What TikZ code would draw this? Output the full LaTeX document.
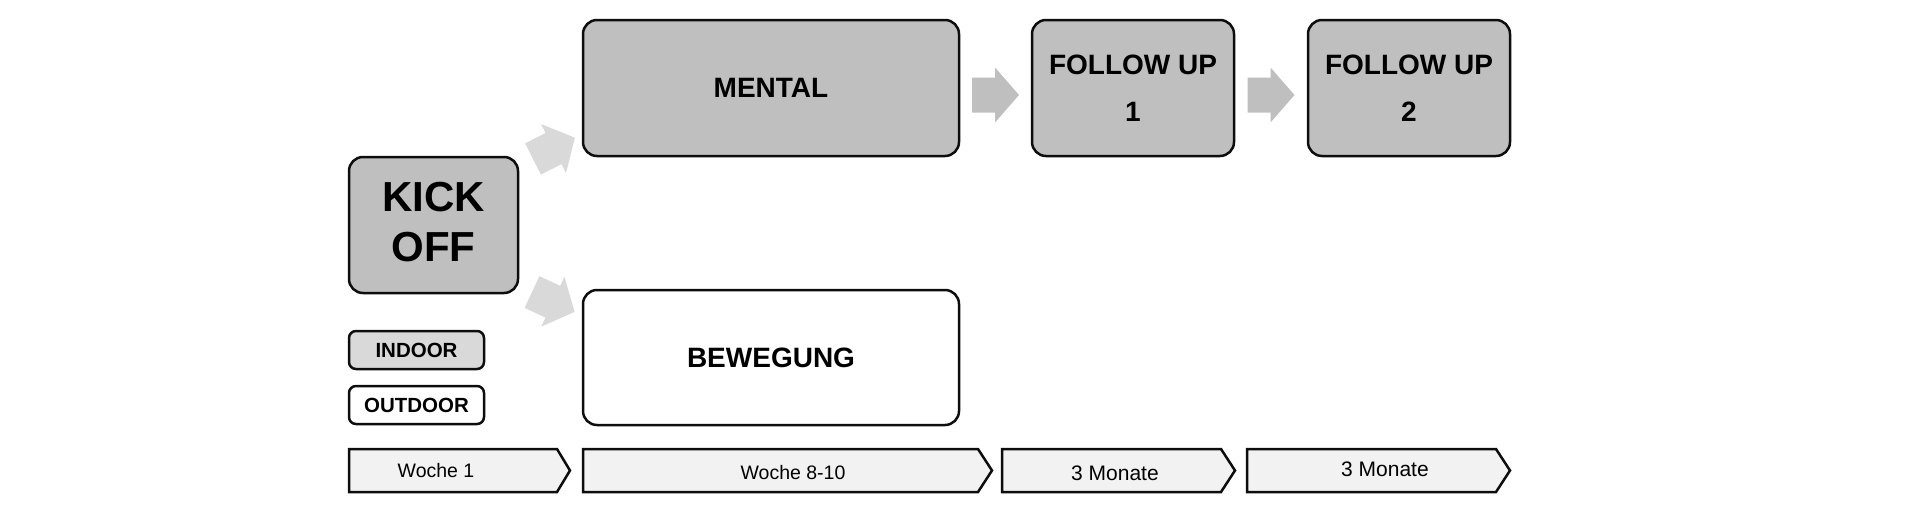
\documentclass[tikz,border=0pt]{standalone}
\usepackage{fontspec}
\setmainfont{Liberation Sans}
\usetikzlibrary{calc}
\definecolor{boxgray}{HTML}{BFBFBF}
\definecolor{lightgray2}{HTML}{D9D9D9}
\definecolor{chevfill}{HTML}{F2F2F2}
\definecolor{edge}{HTML}{0D0D0D}
\tikzset{
  bigbox/.style={draw=edge, line width=2.5pt, rounded corners=14pt, fill=boxgray,
    inner sep=0pt, align=center, font=\bfseries\fontsize{28}{47}\selectfont},
  whitebox/.style={bigbox, fill=white},
  legendbox/.style={draw=edge, line width=2.5pt, rounded corners=7pt, inner sep=0pt,
    minimum width=135pt, minimum height=38pt, font=\bfseries\fontsize{20.5}{24}\selectfont},
  chev/.style={draw=edge, line width=2.5pt, fill=chevfill, line join=miter},
  chevtxt/.style={font=\fontsize{19.5}{22}\selectfont, inner sep=0pt},
  blockarrow/.pic={\fill[pic actions] (0,-17.5) -- (23,-17.5) -- (23,-27.5) -- (47,0) -- (23,27.5) -- (23,17.5) -- (0,17.5) -- cycle;}
}
\begin{document}
\begin{tikzpicture}[x=1pt,y=-1pt]
\useasboundingbox (0,0) rectangle (1920,509);
% main boxes
\node[bigbox, minimum width=169pt, minimum height=136pt] (kick) at (433.5,225) {};
\node[align=center, inner sep=0pt, font=\bfseries\fontsize{42}{50}\selectfont]
  (kicktxt) at ($(kick.center)+(0,-3)$) {KICK\\OFF};
\node[bigbox, minimum width=376pt, minimum height=136pt] (mental) at (771,88) {MENTAL};
\node[bigbox, minimum width=202pt, minimum height=136pt] (fu1) at (1133,88) {FOLLOW UP\\1};
\node[bigbox, minimum width=202pt, minimum height=136pt] (fu2) at (1409,88) {FOLLOW UP\\2};
\node[whitebox, minimum width=376pt, minimum height=135pt] (beweg) at (771,357.5) {BEWEGUNG};
% legend
\node[legendbox, fill=lightgray2] (indoor) at (416.5,350) {INDOOR};
\node[legendbox, fill=white] (outdoor) at (416.5,405) {OUTDOOR};
% block arrows
\pic[fill=boxgray] at ($(mental.east)!0.5!(fu1.west)+(-23.5,7)$) {blockarrow};
\pic[fill=boxgray] at ($(fu1.east)!0.5!(fu2.west)+(-23.5,7)$) {blockarrow};
\pic[fill=lightgray2, rotate=27] at (533,159) {blockarrow};
\pic[fill=lightgray2, rotate=-25] at (532,292) {blockarrow};
% timeline chevrons
\draw[chev] (349,449) -- (557,449) -- (570,470.5) -- (557,492) -- (349,492) -- cycle;
\node[chevtxt] (w1) at (436,471) {Woche 1};
\draw[chev] (583,449) -- (978,449) -- (992,470.5) -- (978,492) -- (583,492) -- cycle;
\node[chevtxt] (w810) at (793,473) {Woche 8-10};
\draw[chev] (1002,449) -- (1221,449) -- (1235,470.5) -- (1221,492) -- (1002,492) -- cycle;
\node[chevtxt, font=\fontsize{21}{24}\selectfont] (m1) at (1115,473) {3 Monate};
\draw[chev] (1247,449) -- (1496,449) -- (1510,470.5) -- (1496,492) -- (1247,492) -- cycle;
\node[chevtxt, font=\fontsize{21}{24}\selectfont] (m2) at (1385,469) {3 Monate};
\end{tikzpicture}
\end{document}
